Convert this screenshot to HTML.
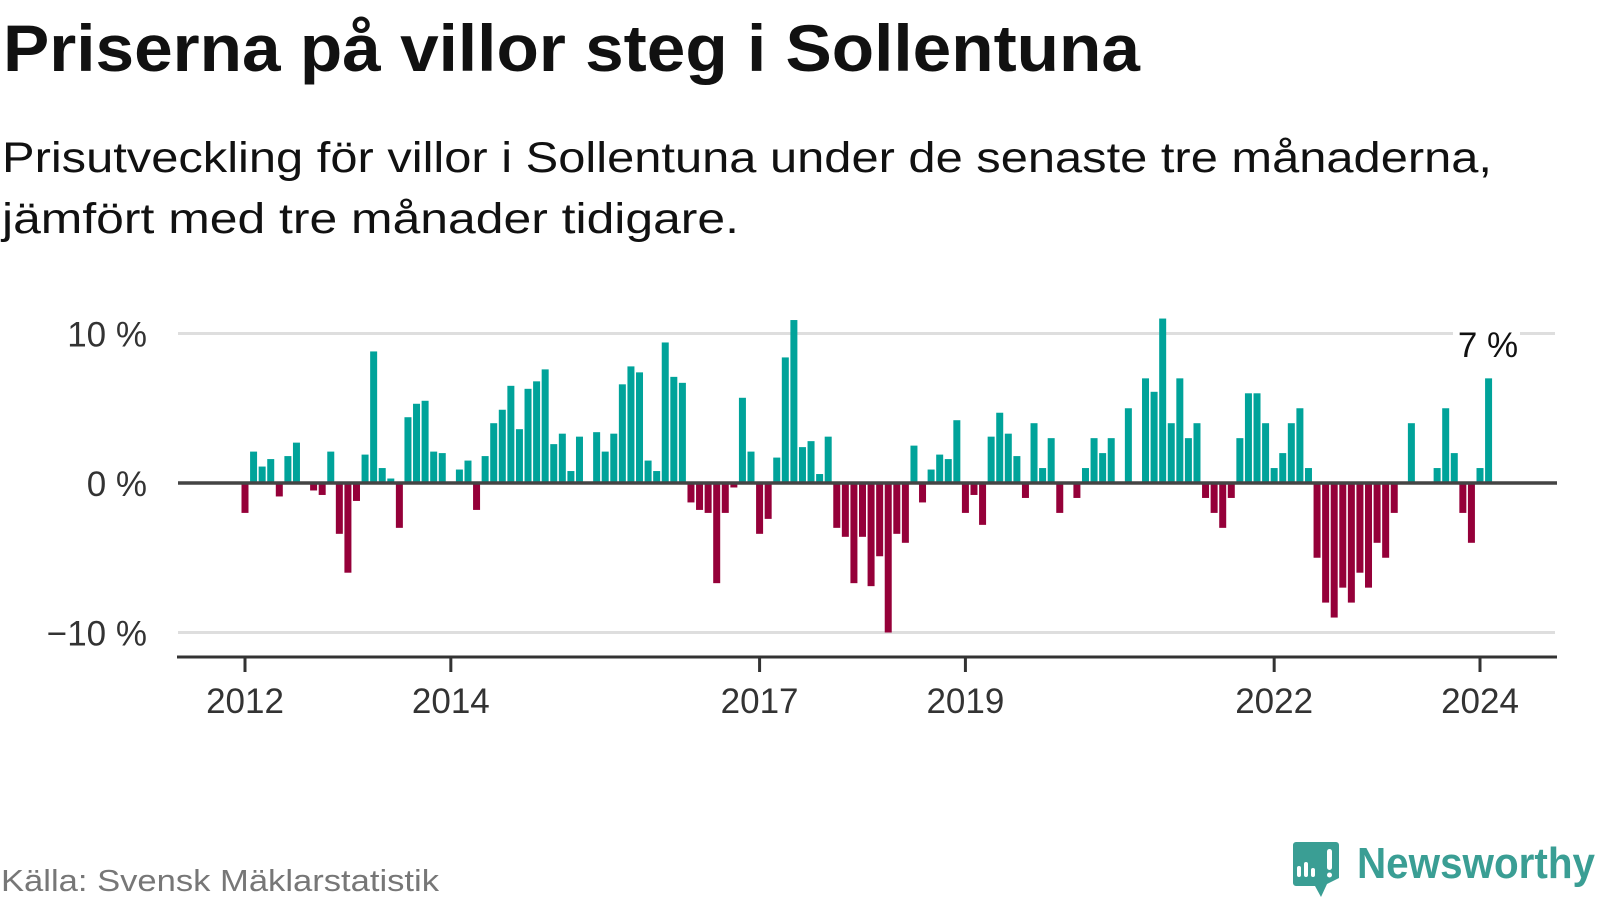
<!DOCTYPE html>
<html><head><meta charset="utf-8">
<style>
html,body{margin:0;padding:0;background:#fff;}
body{width:1600px;height:900px;overflow:hidden;font-family:"Liberation Sans",sans-serif;}
svg text{font-family:"Liberation Sans",sans-serif;}
</style></head>
<body>
<svg id="chart" width="1600" height="900" viewBox="0 0 1600 900" xmlns="http://www.w3.org/2000/svg">
  <text x="3" y="71" font-size="66" font-weight="bold" fill="#111" textLength="1137" lengthAdjust="spacingAndGlyphs">Priserna på villor steg i Sollentuna</text>
  <text x="2" y="172" font-size="43" fill="#111" textLength="1490" lengthAdjust="spacingAndGlyphs">Prisutveckling för villor i Sollentuna under de senaste tre månaderna,</text>
  <text x="2" y="233" font-size="43" fill="#111" textLength="737" lengthAdjust="spacingAndGlyphs">jämfört med tre månader tidigare.</text>
  <g id="grid"></g>
  <g id="ylabels"></g>
  <g id="bars"></g>
  <line x1="178" x2="1557" y1="483" y2="483" stroke="#444" stroke-width="3.5"/>
  <line x1="177" x2="1557" y1="657" y2="657" stroke="#333" stroke-width="3"/>
  <g id="xticks"></g>
  <rect x="1453" y="322" width="67" height="40" fill="#fff"/>
  <text x="1488" y="357" font-size="35" fill="#111" text-anchor="middle">7 %</text>
  <text x="1" y="891" font-size="31" fill="#777" textLength="438" lengthAdjust="spacingAndGlyphs">Källa: Svensk Mäklarstatistik</text>
  <g>
    <path d="M1293 842 h43 a3 3 0 0 1 3 3 v33 l-12 6 l-6 13 l-6 -11 h-19 a3 3 0 0 1 -3 -3 v-38 a3 3 0 0 1 3 -3z" fill="#3a9e94"/>
    <rect x="1297" y="866" width="4" height="11" rx="2" fill="#fff"/>
    <rect x="1304" y="862" width="4" height="15" rx="2" fill="#fff"/>
    <rect x="1311" y="868" width="4" height="9" rx="2" fill="#fff"/>
    <rect x="1327" y="849" width="5" height="21" rx="2.5" fill="#fff"/>
    <circle cx="1329.5" cy="875" r="2.5" fill="#fff"/>
    <text x="1357" y="878" font-size="44" font-weight="bold" fill="#3a9e94" textLength="238" lengthAdjust="spacingAndGlyphs">Newsworthy</text>
  </g>
</svg>
<script>
// Monthly values starting 2012-01, percent
const months0 = [-2.0,2.1,1.1,1.6,-0.9,1.8,2.7,0,-0.5,-0.8,2.1,-3.4,
  -6.0,-1.2,1.9,8.8,1.0,0.3,-3.0,4.4,5.3,5.5,2.1,2.0,
  0,0.9,1.5,-1.8,1.8,4.0,4.9,6.5,3.6,6.3,6.8,7.6,
  2.6,3.3,0.8,3.1,0,3.4,2.1,3.3,6.6,7.8,7.4,1.5];
const months1 = [0.8,9.4,7.1,6.7,-1.3,-1.8,-2.0,-6.7,-2.0,-0.3,5.7,2.1,
  -3.4,-2.4,1.7,8.4,10.9,2.4,2.8,0.6,3.1,-3.0,-3.6,-6.7,
  -3.6,-6.9,-4.9,-10.0,-3.4,-4.0,2.5,-1.3,0.9,1.9,1.6,4.2,
  -2.0,-0.8,-2.8,3.1,4.7,3.3,1.8,-1.0,4.0,1.0,3.0,-2.0];
const months2 = [0,-1.0,1.0,3.0,2.0,3.0,0,5.0,0,7.0,6.1,11.0,
  4.0,7.0,3.0,4.0,-1.0,-2.0,-3.0,-1.0,3.0,6.0,6.0,4.0,
  1.0,2.0,4.0,5.0,1.0,-5.0,-8.0,-9.0,-7.0,-8.0,-6.0,-7.0,
  -4.0,-5.0,-2.0,0,4.0,0,0,1.0,5.0,2.0,-2.0,-4.0,
  1.0,7.0];
const values = months0.concat(months1, months2);
const yTicks = [10, 0, -10];
const yTickLabels = ["10 %", "0 %", "\u221210 %"];
const yearTicks = [2012, 2014, 2017, 2019, 2022, 2024];

const NS = "http://www.w3.org/2000/svg";
function xScale(monthIndex){ return 245 + monthIndex * (1235/144); }
function yScale(v){ return 483 - v * 14.95; }
function yearToIndex(y){ return (y - 2012) * 12; }

const grid = document.getElementById('grid');
const ylabels = document.getElementById('ylabels');
yTicks.forEach((t, i) => {
  if (t !== 0) {
    const l = document.createElementNS(NS, 'line');
    
    
    l.setAttribute('x1', 178); l.setAttribute('x2', 1555);
    l.setAttribute('y1', yScale(t)); l.setAttribute('y2', yScale(t));
    l.setAttribute('stroke', '#dedede'); l.setAttribute('stroke-width', 3);
    grid.appendChild(l);
  }
  const tx = document.createElementNS(NS, 'text');
  
  
  tx.setAttribute('x', 147); tx.setAttribute('y', yScale(t) + 13);
  tx.setAttribute('text-anchor', 'end');
  tx.setAttribute('font-size', 35); tx.setAttribute('fill', '#333');
  tx.textContent = yTickLabels[i];
  ylabels.appendChild(tx);
});

const bars = document.getElementById('bars');
values.forEach((v, i) => {
  if (v === 0) return;
  const r = document.createElementNS(NS, 'rect');
  
  
  const x = xScale(i) - 3.5;
  const y0 = yScale(0), y1 = yScale(v);
  r.setAttribute('x', x); r.setAttribute('width', 7);
  r.setAttribute('y', Math.min(y0, y1)); r.setAttribute('height', Math.abs(y1 - y0));
  r.setAttribute('fill', v > 0 ? '#00a39a' : '#950039');
  bars.appendChild(r);
});

const xt = document.getElementById('xticks');
yearTicks.forEach(yr => {
  const x = xScale(yearToIndex(yr));
  const l = document.createElementNS(NS, 'line');
  
  
  l.setAttribute('x1', x); l.setAttribute('x2', x);
  l.setAttribute('y1', 657); l.setAttribute('y2', 672);
  l.setAttribute('stroke', '#333'); l.setAttribute('stroke-width', 3);
  xt.appendChild(l);
  const t = document.createElementNS(NS, 'text');
  
  
  t.setAttribute('x', x); t.setAttribute('y', 713);
  t.setAttribute('text-anchor', 'middle');
  t.setAttribute('font-size', 35); t.setAttribute('fill', '#333');
  t.textContent = yr;
  xt.appendChild(t);
});
</script>
</body></html>
